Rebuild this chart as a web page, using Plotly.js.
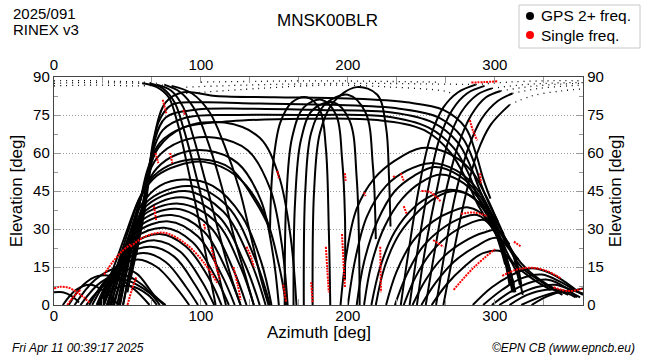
<!DOCTYPE html>
<html>
<head>
<meta charset="utf-8">
<script src="https://cdn.plot.ly/plotly-3.0.1.min.js"></script>
<style>html,body{margin:0;padding:0;background:#fff}#plot{width:650px;height:360px}</style>
</head>
<body>
<div id="plot"></div>
<script>
// ---- data: satellite tracks (azimuth [deg], elevation [deg]) ----
const lowLeftAz = [
  [0, 6, 12, 17],
  [6, 15, 25, 35, 44],
  [10, 20, 30, 42, 55, 65],
  [14, 28, 43, 56, 68, 76],
  [18, 32, 46, 60, 72],
  [22, 35, 48, 62, 75],
  [30, 40, 52, 64, 70]
];
const lowLeftEl = [
  [5, 5, 3.5, 1],
  [0, 6, 8, 5, 0],
  [0, 8, 11.5, 11, 6, 0],
  [0, 10, 14.5, 12.5, 4, 0],
  [0, 9, 12, 8, 0],
  [0, 8, 10, 6, 0],
  [0, 6, 7.5, 4, 0]
];
const leftAz = [
  [24, 34, 45, 57, 70, 83, 92],
  [26, 36, 47, 61, 76, 90, 98],
  [29, 39, 50, 66, 82, 96, 104],
  [31, 41, 52, 69, 86, 101, 109],
  [33, 43, 53, 72, 90, 106, 114],
  [34, 44, 55, 75, 94, 110, 119],
  [36, 46, 56, 78, 98, 114, 123],
  [37, 47, 57, 80, 102, 118, 127],
  [39, 48, 58, 83, 106, 122, 131],
  [41, 50, 59, 85, 110, 127, 136],
  [43, 51, 60, 87, 112, 130, 140],
  [45, 53, 61, 89, 115, 134, 144],
  [47, 55, 62, 92, 118, 137, 147]
];
const leftEl = [
  [0, 9, 15.5, 18, 15, 7, 0],
  [0, 10, 17.5, 20.5, 17, 7, 0],
  [0, 12, 20, 23, 19, 8, 0],
  [0, 13, 22, 25.5, 21, 9, 0],
  [0, 15, 24, 28, 23, 10, 0],
  [0, 16, 26.5, 30.5, 25, 11, 0],
  [0, 17, 28.5, 33, 27, 12, 0],
  [0, 18, 30.5, 35.5, 29, 13, 0],
  [0, 19, 32.5, 38, 31, 14, 0],
  [0, 20, 34.5, 40, 33, 15, 0],
  [0, 21, 36, 42.5, 35, 16, 0],
  [0, 22, 38, 45, 37, 17, 0],
  [0, 23, 40, 47, 39, 18, 0]
];
const tallAz = [
  [30, 40, 50, 58, 68, 82, 100, 120, 138, 147],
  [32, 42, 51, 59, 70, 84, 102, 124, 143, 153, 158],
  [34, 43, 52, 60, 72, 88, 108, 128, 141, 148],
  [36, 45, 53, 61, 70, 84, 104, 125, 141, 149, 153],
  [38, 47, 55, 62, 70, 86, 110, 132, 147, 155, 159],
  [40, 49, 56, 63, 71, 88, 116, 140, 153, 161, 165]
];
const tallEl = [
  [0, 14, 30, 42, 51, 56, 57.5, 54, 40, 30],
  [0, 14, 30, 43, 51, 55, 56.5, 51, 36, 16, 0],
  [0, 14, 29, 40, 47, 49.5, 47, 35, 17, 0],
  [0, 15, 31, 45, 54, 59.5, 61, 56, 41, 20, 0],
  [0, 16, 33, 48, 58, 64.5, 66, 61, 46, 24, 0],
  [0, 17, 35, 50, 62, 70, 72, 66, 51, 27, 0]
];
const zenLeftAz = [
  [60, 70, 78, 84, 90, 97, 104, 110],
  [65, 74, 82, 88, 95, 103, 110, 117],
  [70, 80, 88, 95, 103, 112, 120, 127],
  [75, 86, 96, 105, 114, 122, 130, 136],
  [80, 94, 106, 116, 126, 134, 141, 146]
];
const zenLeftEl = [
  [87.5, 86, 82, 72, 57, 38, 18, 0],
  [87.5, 85.5, 80, 70, 55, 36, 17, 0],
  [87, 84.5, 78, 66, 49, 29, 12, 0],
  [87, 84, 77, 64, 47, 28, 12, 0],
  [86.5, 83.5, 76, 63, 46, 27, 10, 0]
];
const flatAz = [
  [56, 63, 68, 76, 88, 110, 150, 200, 240, 265, 280, 287, 292, 297],
  [52, 61, 66, 71, 80, 100, 140, 190, 235, 262, 278, 286, 291, 296, 302],
  [50, 58, 64, 68, 76, 95, 130, 180, 230, 258, 275, 284, 290, 297, 306],
  [47, 56, 62, 66, 74, 90, 125, 175, 225, 255, 272, 282, 289, 298, 310],
  [44, 53, 59, 64, 72, 88, 120, 170, 220, 252, 270, 281, 289, 300, 316]
];
const flatEl = [
  [20, 45, 66, 80, 84, 82.5, 82, 81.5, 80, 77, 70, 60, 50, 42],
  [10, 35, 55, 72, 79, 80, 79.5, 79, 77.5, 74, 66, 56, 47, 40, 33],
  [5, 30, 50, 64, 74, 77, 77.5, 77, 76, 72, 64, 54, 45, 37, 28],
  [0, 27, 45, 58, 69, 74, 75, 75, 74.5, 70, 62, 52, 42, 33, 24],
  [0, 25, 42, 54, 64, 70, 72.5, 73.5, 73, 69, 60, 49, 39, 29, 18]
];
const midAz = [
  [147, 149, 154, 162, 172, 181, 185, 187, 188],
  [157, 158, 162, 170, 182, 192, 196, 198, 198],
  [163, 164, 168, 176, 190, 201, 206, 208],
  [170, 171, 175, 184, 200, 212, 217, 219],
  [176, 177, 181, 190, 206, 220, 226, 228, 229]
];
const midEl = [
  [30, 55, 72, 80, 82, 77, 62, 30, 0],
  [0, 40, 66, 78, 81, 75, 58, 35, 10],
  [0, 40, 65, 77, 80, 73, 50, 0],
  [0, 45, 68, 79, 83, 76, 55, 26],
  [0, 45, 68, 80, 86, 83, 70, 50, 31]
];
const rightAz = [
  [195, 199, 206, 218, 232, 250, 268, 284, 294, 302, 311, 322, 336, 350],
  [200, 205, 213, 226, 240, 256, 274, 289, 299, 308, 318, 332, 346],
  [206, 211, 220, 232, 245, 259, 276, 291, 302, 312, 324, 338],
  [211, 216, 225, 237, 250, 263, 279, 294, 305, 313],
  [216, 222, 232, 245, 258, 270, 284, 297, 307, 314],
  [219, 225, 235, 248, 260, 272, 286, 298, 307],
  [226, 233, 244, 258, 271, 282, 295, 305, 312],
  [232, 240, 251, 265, 278, 288, 299, 308, 313],
  [238, 246, 257, 271, 284, 293, 303, 310],
  [244, 253, 265, 279, 292, 302, 311, 317],
  [250, 260, 272, 287, 301, 312, 318],
  [257, 267, 279, 292, 305, 314, 319]
];
const rightEl = [
  [0, 20, 38, 50, 57, 62, 60, 53, 43, 33, 22, 14, 8, 4],
  [0, 18, 35, 47, 53, 56, 53, 45, 34, 24, 15, 9, 4],
  [0, 17, 33, 45, 51, 54.5, 51, 42, 29, 17, 11, 6],
  [0, 16, 31, 42, 48.5, 51.5, 48, 38, 24, 8],
  [0, 15, 29, 38.5, 43.5, 45.5, 43, 34, 20, 5],
  [0, 15, 28, 37, 42.5, 45, 42, 32, 16],
  [0, 13, 25, 33, 37, 38.5, 34, 22, 5],
  [0, 12, 23, 30.5, 34.5, 35.5, 30, 18, 5],
  [0, 11, 21, 28.5, 32.5, 33.5, 25, 8],
  [0, 10, 19, 25, 28.5, 29.5, 22, 8],
  [0, 9, 17, 23, 26.5, 21, 8],
  [0, 8, 15, 20.5, 21, 14, 4]
];
const zenRightAz = [
  [236, 241, 248, 256, 265, 275, 287],
  [242, 247, 254, 262, 271, 281, 293],
  [247, 252, 260, 268, 277, 288, 298],
  [253, 259, 266, 275, 284, 294, 304],
  [260, 266, 273, 282, 291, 302, 312],
  [265, 272, 280, 288, 297, 310]
];
const zenRightEl = [
  [0, 20, 45, 66, 78, 84, 87],
  [0, 20, 44, 65, 77, 83.5, 86.5],
  [0, 20, 44, 64, 76, 83, 85.5],
  [0, 21, 43, 63, 75, 82, 84.5],
  [0, 21, 43, 62, 73.5, 80.5, 83.5],
  [0, 21, 43, 60, 71, 79]
];
const lowRightAz = [
  [285, 298, 312, 325, 338, 348, 355],
  [292, 305, 318, 332, 345, 354, 360],
  [298, 310, 322, 336, 348, 356],
  [303, 315, 328, 341, 352, 360],
  [310, 322, 335, 348, 358],
  [318, 330, 342, 352, 360],
  [325, 336, 346, 355]
];
const lowRightEl = [
  [0, 7, 12, 14.5, 12.5, 9, 6],
  [0, 6, 10.5, 12, 9, 6, 4],
  [0, 5, 8.5, 10, 7, 3],
  [0, 4, 7, 8, 6, 4.5],
  [0, 4, 6, 5.5, 3],
  [0, 3, 5, 5.5, 6.5],
  [0, 3.5, 5, 3]
];
const dotAz = [
  [0, 20, 40, 60, 70],
  [0, 20, 40, 60, 65],
  [0, 30, 55, 75],
  [90, 130, 170, 210, 250, 290],
  [100, 140, 180, 220, 260],
  [90, 140, 188, 230, 265, 274],
  [287, 310, 335, 360],
  [298, 320, 340, 360],
  [304, 325, 345, 360],
  [312, 330, 350, 360],
  [310, 325, 345, 360]
];
const dotEl = [
  [88.5, 88.6, 88.3, 88, 87.5],
  [87.5, 87.8, 87.7, 87.5, 87.5],
  [86.5, 86.8, 86.5, 86.8],
  [86, 86.8, 87.3, 87.5, 87.3, 87],
  [88, 88.3, 88.5, 88.3, 88],
  [83.5, 85.5, 86.8, 86, 84.5, 83],
  [87, 88, 88.5, 88.5],
  [85.5, 87, 87.6, 87.8],
  [84.5, 86.3, 87.2, 87.5],
  [83.5, 85.5, 86.5, 86.8],
  [79, 82.5, 84.5, 85.3]
];
// single-frequency stretches
const redAz = [
  [0, 4, 10, 17, 24], [305, 315, 325, 335, 345], [52, 62, 75, 90, 102, 111],
  [34, 40, 46, 52], [9, 13, 18], [74, 76.5], [69, 71], [79, 80.5], [68, 69.5],
  [107, 110, 113], [131, 134, 136], [152, 153], [185, 186, 187], [196, 197, 198],
  [198, 198.5], [222, 222.5], [250, 256, 263], [258, 265], [272, 286, 300],
  [277, 286, 295], [283, 285, 288], [284, 293, 302], [290, 290.5], [313, 318],
  [340, 350, 360], [211, 212], [236, 238], [231, 232], [50, 53, 56],
  [122, 125, 127], [156, 158], [175, 176], [238, 240], [88, 89], [102, 103]
];
const redEl = [
  [6.5, 7.2, 6.8, 4.5, 1], [11.5, 14, 14.7, 13.5, 10.5], [23, 27, 28.5, 24, 16.7, 8.8],
  [12, 17, 21, 24], [0, 3, 6], [81, 75.5], [60, 56], [60, 56], [39, 33.5],
  [23, 16, 10], [23, 19, 15], [53, 50], [23, 14, 5], [28, 17, 7],
  [52, 49], [23, 5], [45, 44.5, 41], [25.6, 23], [6, 15, 22],
  [36, 36.5, 35], [73, 69, 65], [87.8, 88, 88.3], [52, 48], [25, 23],
  [7, 5.5, 6.5], [44.5, 43], [52, 49], [51, 50], [0, 6, 11],
  [15, 8, 2], [8, 1], [9, 1], [39, 36], [77, 75], [32, 29.6]
];
const xTicks = [0, 100, 200, 300];
const yTicks = [0, 15, 30, 45, 60, 75, 90];
const legendNames = ['GPS 2+ freq.', 'Single freq.'];
const legendColors = ['#000', '#ff0000'];

// ---- build traces ----
const traces = [];
function addGroup(azs, els, color, width, dash) {
  azs.forEach((az, i) => {
    traces.push({
      x: az, y: els[i], type: 'scatter', mode: 'lines',
      line: {color: color, width: width, shape: 'spline', smoothing: 1, dash: dash || 'solid'},
      showlegend: false, hoverinfo: 'skip'
    });
  });
}
addGroup(lowLeftAz, lowLeftEl, '#000', 2);
addGroup(leftAz, leftEl, '#000', 2);
addGroup(tallAz, tallEl, '#000', 2);
addGroup(zenLeftAz, zenLeftEl, '#000', 2);
addGroup(flatAz, flatEl, '#000', 2);
addGroup(midAz, midEl, '#000', 2);
addGroup(rightAz, rightEl, '#000', 2);
addGroup(zenRightAz, zenRightEl, '#000', 2);
addGroup(lowRightAz, lowRightEl, '#000', 2);
addGroup(dotAz, dotEl, '#000', 1.3, '1px,5px');
addGroup(redAz, redEl, '#ff0000', 2, '2px,1px');
// carrier for mirrored axes
traces.push({x: [0], y: [0], xaxis: 'x2', yaxis: 'y2', type: 'scatter', mode: 'markers',
  marker: {opacity: 0}, showlegend: false, hoverinfo: 'skip'});

const fam = 'Liberation Sans, Arial, sans-serif';
const tickFont = {family: fam, size: 15, color: '#000'};
const titleFont = {family: fam, size: 17, color: '#000'};
const axisCommon = {
  showline: true, linecolor: '#444', linewidth: 1.2, zeroline: false, automargin: false,
  ticks: 'inside', ticklen: 6, tickcolor: '#999', tickwidth: 1, tickfont: tickFont
};
const x0 = 54, x1 = 583, yTop = 77, yBot = 305;
const px = v => (v - x0) / (x1 - x0);
const py = v => (yBot - v) / (yBot - yTop);

// legend drawn as a boxed key
const legendShapes = [{type: 'rect', xref: 'paper', yref: 'paper', x0: px(519), x1: px(640), y0: py(5), y1: py(48),
  line: {color: '#c8c8c8', width: 1}, fillcolor: '#fff', layer: 'above'}];
const legendNotes = [];
legendNames.forEach((name, i) => {
  const cy = 16 + i * 19;
  legendShapes.push({type: 'circle', xref: 'paper', yref: 'paper', x0: px(526), x1: px(534), y0: py(cy - 4), y1: py(cy + 4),
    line: {color: legendColors[i], width: 0}, fillcolor: legendColors[i], layer: 'above'});
  legendNotes.push({text: name, xref: 'paper', yref: 'paper', x: px(539), y: py(cy), xanchor: 'left', yanchor: 'middle',
    showarrow: false, font: {family: fam, size: 15.5, color: '#000'}});
});

const layout = {
  width: 650, height: 360,
  margin: {l: x0, r: 650 - x1, t: yTop, b: 360 - yBot, autoexpand: false},
  paper_bgcolor: '#fff', plot_bgcolor: '#fff',
  font: {family: fam, color: '#000'},
  showlegend: false,
  xaxis: Object.assign({}, axisCommon, {
    range: [0, 360], tickvals: xTicks, ticktext: xTicks.map(String), showgrid: false,
    ticklabelstandoff: -3,
    minor: {dtick: 100 / 3, tick0: 0, ticks: 'inside', ticklen: 6, tickcolor: '#999', showgrid: false}
  }),
  xaxis2: Object.assign({}, axisCommon, {
    range: [0, 360], tickvals: xTicks, ticktext: xTicks.map(String), showgrid: false,
    overlaying: 'x', side: 'top', anchor: 'y',
    minor: {dtick: 100 / 3, tick0: 0, ticks: 'inside', ticklen: 6, tickcolor: '#999', showgrid: false}
  }),
  yaxis: Object.assign({}, axisCommon, {
    range: [0, 90], tickvals: yTicks, showgrid: true, gridcolor: '#999', griddash: '1px,2px', gridwidth: 1,
    minor: {dtick: 7.5, tick0: 0, ticks: 'inside', ticklen: 4, tickcolor: '#999', showgrid: false},
    title: {text: 'Elevation [deg]', font: titleFont, standoff: 6}
  }),
  yaxis2: Object.assign({}, axisCommon, {
    range: [0, 90], tickvals: yTicks, showgrid: false,
    overlaying: 'y', side: 'right', anchor: 'x',
    minor: {dtick: 7.5, tick0: 0, ticks: 'inside', ticklen: 4, tickcolor: '#999', showgrid: false},
    title: {text: 'Elevation [deg]', font: titleFont, standoff: 6}
  }),
  shapes: legendShapes,
  annotations: [
    {text: 'Azimuth [deg]', xref: 'paper', yref: 'paper', x: 0.5, y: py(332), xanchor: 'center', yanchor: 'middle',
      showarrow: false, font: titleFont},
    {text: '2025/091', xref: 'paper', yref: 'paper', x: px(11), y: py(14), xanchor: 'left', yanchor: 'middle',
      showarrow: false, font: {size: 15, color: '#000'}},
    {text: 'RINEX v3', xref: 'paper', yref: 'paper', x: px(11), y: py(30), xanchor: 'left', yanchor: 'middle',
      showarrow: false, font: {size: 15, color: '#000'}},
    {text: 'MNSK00BLR', xref: 'paper', yref: 'paper', x: px(327), y: py(20), xanchor: 'center', yanchor: 'middle',
      showarrow: false, font: {size: 17, color: '#000'}},
    {text: '<i>Fri Apr 11 00:39:17 2025</i>', xref: 'paper', yref: 'paper', x: px(10), y: py(348), xanchor: 'left', yanchor: 'middle',
      showarrow: false, font: {size: 12, color: '#000'}},
    {text: '<i>©EPN CB (www.epncb.eu)</i>', xref: 'paper', yref: 'paper', x: px(637), y: py(348), xanchor: 'right', yanchor: 'middle',
      showarrow: false, font: {size: 12, color: '#000'}}
  ].concat(legendNotes)
};
Plotly.newPlot('plot', traces, layout, {staticPlot: true, displayModeBar: false});
</script>
</body>
</html>
